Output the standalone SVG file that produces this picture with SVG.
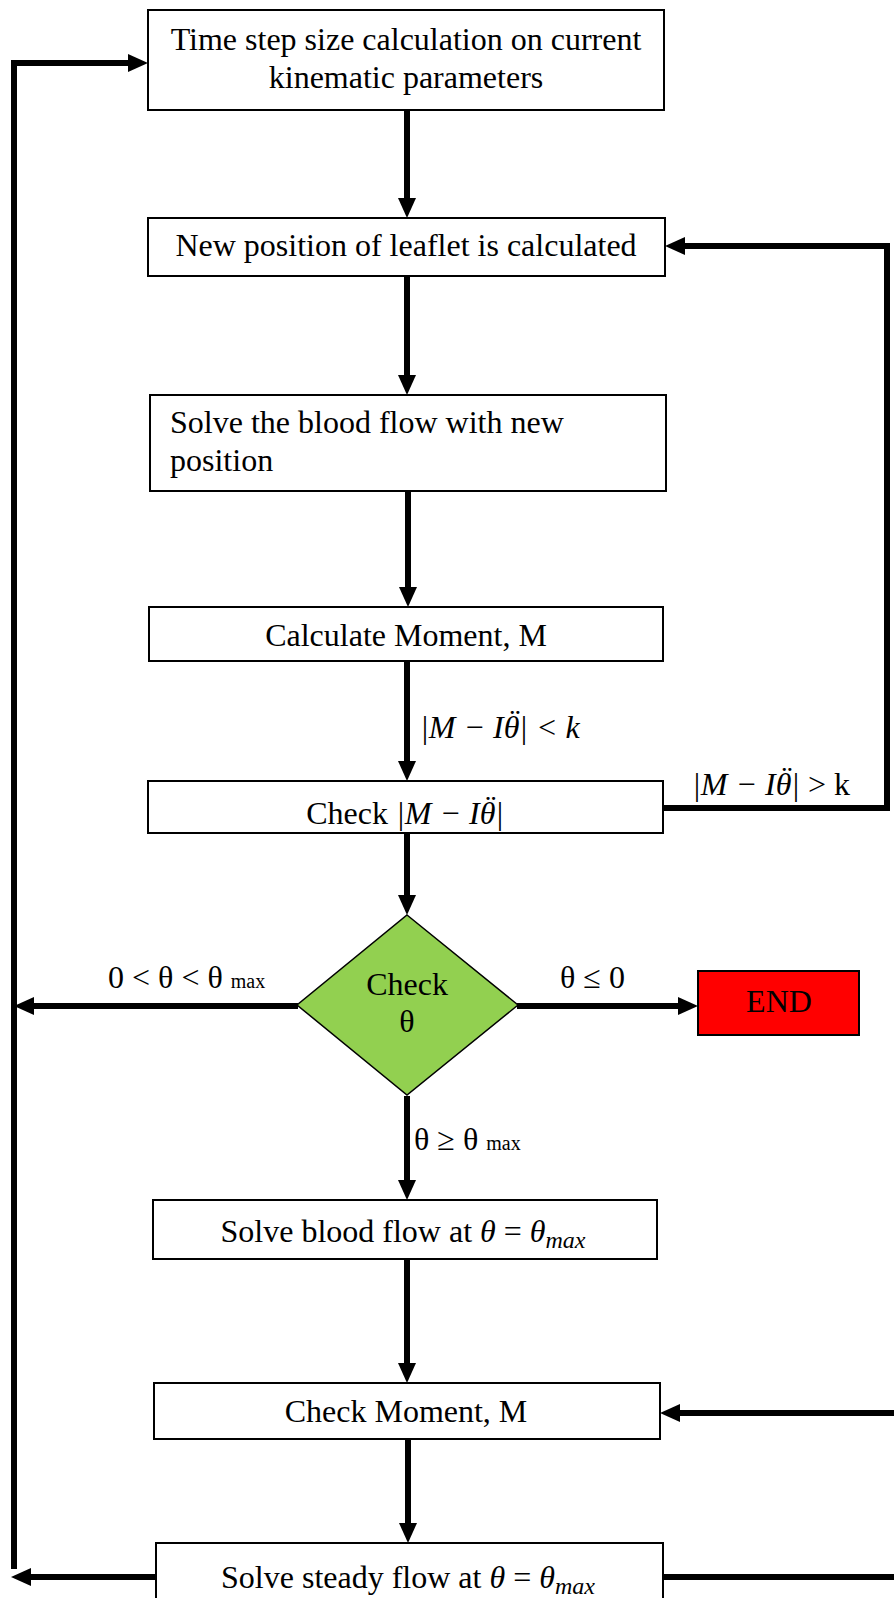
<svg xmlns="http://www.w3.org/2000/svg" width="894" height="1598" viewBox="0 0 894 1598">
<defs>
<style>
.box{fill:#fff;stroke:#000;stroke-width:2}
.t{font-family:"Liberation Serif","Times New Roman",serif;font-size:32px;fill:#000}
.m{font-family:"Liberation Serif","Times New Roman",serif;font-style:italic}
.c{text-anchor:middle}
.lbl{font-family:"Liberation Serif","Times New Roman",serif;font-size:32px;fill:#000}
.con{fill:none;stroke:#000;stroke-width:6;stroke-linejoin:miter}
</style>
<marker id="ah" markerUnits="userSpaceOnUse" markerWidth="20" markerHeight="18" refX="8" refY="9" orient="auto">
<path d="M0,0 L20,9 L0,18 z" fill="#000"/>
</marker>
</defs>
<rect width="894" height="1598" fill="#fff"/>
<g id="connectors">
<path class="con" d="M407,110 V206" marker-end="url(#ah)"/>
<path class="con" d="M407,276 V383" marker-end="url(#ah)"/>
<path class="con" d="M408,491 V595" marker-end="url(#ah)"/>
<path class="con" d="M407,661 V769" marker-end="url(#ah)"/>
<path class="con" d="M407,833 V903" marker-end="url(#ah)"/>
<path class="con" d="M663,808 H887 V246 H677" marker-end="url(#ah)"/>
<path class="con" d="M298,1006 H26" marker-end="url(#ah)"/>
<path class="con" d="M517,1006 H686" marker-end="url(#ah)"/>
<path class="con" d="M407,1096 V1188" marker-end="url(#ah)"/>
<path class="con" d="M407,1259 V1371" marker-end="url(#ah)"/>
<path class="con" d="M894,1413 H672" marker-end="url(#ah)"/>
<path class="con" d="M408,1439 V1531" marker-end="url(#ah)"/>
<path class="con" d="M156,1577 H23" marker-end="url(#ah)"/>
<path class="con" d="M663,1577 H894"/>
<path class="con" d="M14,1569 V63 H136" marker-end="url(#ah)"/>
<text class="lbl m" x="420" y="738">|M  −  Iθ<tspan dx="-12" dy="-6">¨</tspan><tspan dx="1" dy="6">|</tspan>  &lt;  k</text>
<text class="lbl" x="692" y="795"><tspan class="m">|M  −  Iθ</tspan><tspan class="m" dx="-12" dy="-6">¨</tspan><tspan class="m" dx="1" dy="6">|</tspan> &gt; k</text>
<text class="lbl" x="108" y="988">0 &lt; θ &lt; θ <tspan font-size="20">max</tspan></text>
<text class="lbl" x="560" y="988">θ ≤ 0</text>
<text class="lbl" x="414" y="1150">θ ≥ θ <tspan font-size="20">max</tspan></text>
</g>
<g id="n1">
<rect class="box" x="148" y="10" width="516" height="100"/>
<text class="t c" x="406" y="50">Time step size calculation on current</text>
<text class="t c" x="406" y="88">kinematic parameters</text>
</g>
<g id="n2">
<rect class="box" x="148" y="218" width="517" height="58"/>
<text class="t c" x="406" y="256">New position of leaflet is calculated</text>
</g>
<g id="n3">
<rect class="box" x="150" y="395" width="516" height="96"/>
<text class="t" x="170" y="433">Solve the blood flow with new</text>
<text class="t" x="170" y="471">position</text>
</g>
<g id="n4">
<rect class="box" x="149" y="607" width="514" height="54"/>
<text class="t c" x="406" y="646">Calculate Moment, M</text>
</g>
<g id="n5">
<rect class="box" x="148" y="781" width="515" height="52"/>
<text class="t c" x="405" y="824">Check <tspan class="m">|M  −  Iθ</tspan><tspan class="m" dx="-12" dy="-6">¨</tspan><tspan class="m" dx="1" dy="6">|</tspan></text>
</g>
<g id="n6">
<path d="M407,915 L518,1005 L407,1095 L297,1005 Z" fill="#92D050" stroke="#000" stroke-width="1.5"/>
<text class="t c" x="407" y="995">Check</text>
<text class="t c" x="407" y="1032">θ</text>
</g>
<g id="n7">
<rect x="698" y="971" width="161" height="64" fill="#FF0000" stroke="#000" stroke-width="2"/>
<text class="t c" x="779" y="1012">END</text>
</g>
<g id="n8">
<rect class="box" x="153" y="1200" width="504" height="59"/>
<text class="t c" x="403" y="1242">Solve blood flow at <tspan class="m">θ</tspan> =  <tspan class="m">θ</tspan><tspan class="m" font-size="24" dy="6">max</tspan></text>
</g>
<g id="n9">
<rect class="box" x="154" y="1383" width="506" height="56"/>
<text class="t c" x="406" y="1422">Check Moment, M</text>
</g>
<g id="n10">
<rect class="box" x="156" y="1543" width="507" height="62"/>
<text class="t c" x="408" y="1588">Solve steady flow at <tspan class="m">θ</tspan> =  <tspan class="m">θ</tspan><tspan class="m" font-size="24" dy="6">max</tspan></text>
</g>
</svg>
